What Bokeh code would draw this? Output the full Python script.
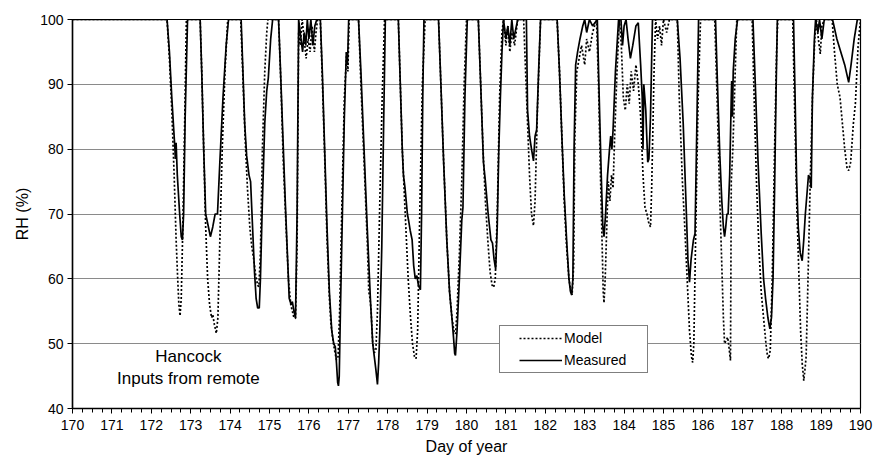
from bokeh.plotting import figure
from bokeh.models import (Range1d, FixedTicker, Legend, LegendItem)
from bokeh.core.properties import value
from bokeh.embed import file_html
from bokeh.resources import INLINE

# ---------------- data ----------------
meas_day = [170.00, 172.40, 172.46, 172.52, 172.58, 172.60, 172.61, 172.63, 172.66, 172.72, 172.76, 172.79, 172.82, 172.86, 172.92,
            173.24, 173.28, 173.33, 173.38, 173.45, 173.50, 173.56, 173.62, 173.68, 173.74, 173.82, 173.90, 173.96,
            174.28, 174.32, 174.37, 174.42, 174.48, 174.52, 174.57, 174.62, 174.66, 174.70, 174.74, 174.77, 174.82, 174.88, 174.93, 174.97, 175.03, 175.08,
            175.23, 175.28, 175.34, 175.40, 175.46, 175.50, 175.55, 175.58, 175.62, 175.66, 175.70, 175.74,
            175.80, 175.84, 175.88, 175.92, 175.96, 176.00, 176.05, 176.10, 176.15, 176.20, 176.29,
            176.34, 176.40, 176.46, 176.52, 176.58, 176.63, 176.67, 176.70, 176.73, 176.75, 176.77, 176.80, 176.85, 176.90, 176.95, 176.98, 177.01, 177.05,
            177.26, 177.32, 177.40, 177.48, 177.56, 177.62, 177.66, 177.70, 177.74, 177.77, 177.80, 177.85, 177.90, 177.94,
            178.27, 178.32, 178.37, 178.40, 178.44, 178.50, 178.53, 178.57, 178.62, 178.66, 178.70, 178.74, 178.78, 178.83, 178.86, 178.89, 178.92,
            179.29, 179.35, 179.42, 179.50, 179.57, 179.63, 179.67, 179.70, 179.72, 179.76, 179.82, 179.88, 179.91, 179.96, 180.02,
            180.30, 180.36, 180.43, 180.48, 180.55, 180.62, 180.66, 180.70, 180.74, 180.78, 180.82, 180.86, 180.90, 180.94,
            181.00, 181.05, 181.10, 181.15, 181.20, 181.30,
            181.52, 181.55, 181.60, 181.65, 181.70, 181.74, 181.78, 181.83, 181.88,
            182.30, 182.36, 182.42, 182.48, 182.55, 182.60, 182.64, 182.67, 182.70, 182.73, 182.77, 182.82, 182.88, 182.95, 183.00, 183.05, 183.12, 183.20,
            183.32, 183.36, 183.42, 183.46, 183.49, 183.53, 183.58, 183.63, 183.66, 183.69, 183.72, 183.78, 183.86,
            183.92, 183.96, 184.00, 184.05, 184.10, 184.16, 184.22, 184.30, 184.36, 184.42, 184.46, 184.48, 184.50, 184.55, 184.60, 184.63, 184.67, 184.72,
            185.35, 185.42, 185.50, 185.57, 185.62, 185.66, 185.70, 185.76, 185.80, 185.85, 185.89,
            186.32, 186.37, 186.43, 186.48, 186.52, 186.55, 186.58, 186.61, 186.64, 186.68, 186.72, 186.73, 186.75, 186.77, 186.82, 186.88,
            187.27, 187.33, 187.40, 187.48, 187.54, 187.59, 187.65, 187.70, 187.74, 187.78, 187.82, 187.86, 187.89,
            188.30, 188.34, 188.38, 188.42, 188.47, 188.52, 188.56, 188.60, 188.64, 188.68, 188.72, 188.75, 188.78, 188.83, 188.86,
            188.92, 188.96, 189.02, 189.08,
            189.29, 189.40, 189.50, 189.60, 189.70, 189.76, 189.84, 189.92, 190.00]
meas_rh = [100, 100, 95, 88, 82, 80, 78.5, 81, 76, 70, 66.5, 66, 70, 85, 100,
           100, 92, 80, 70, 68, 66.5, 68, 70, 70, 78, 88, 96, 100,
           100, 93, 84, 79, 76, 75, 68, 61, 57, 55.5, 55.5, 60, 72, 84, 89, 91, 97, 100,
           100, 92, 82, 72, 63, 57, 56, 56.5, 55, 54, 70, 100,
           97, 95, 98, 96, 100, 97, 100, 96, 99, 100, 100,
           92, 80, 68, 58, 52, 50, 49.5, 47, 44, 43.5, 45, 55, 70, 85, 95, 93, 100, 100,
           100, 92, 80, 68, 57, 50, 48, 46, 43.7, 47, 52, 65, 85, 100,
           100, 90, 80, 76, 74, 70, 69, 67.5, 66, 62, 60, 60.5, 59, 58.3, 70, 88, 100,
           100, 90, 78, 66, 58, 54, 51, 48.5, 48.2, 52, 60, 69, 71, 88, 100,
           100, 90, 78, 75, 70, 66, 65.5, 63, 61.5, 68, 80, 88, 95, 100,
           97, 99, 96, 100, 97, 100,
           100, 86, 82, 80, 78.2, 82, 83, 92, 100,
           100, 92, 82, 73, 65, 60, 58, 57.5, 60, 80, 93, 95, 97, 99, 100, 98, 100, 99,
           100, 90, 76, 68, 66.5, 70, 76, 80, 82, 80, 83, 92, 100,
           100, 96, 99, 100, 97, 94, 96, 99, 99.5, 93, 88, 80, 90, 86, 78, 78.5, 85, 100,
           100, 94, 84, 72, 63, 59.5, 63, 66, 67, 85, 100,
           100, 90, 79, 72, 68, 66.5, 68, 70, 70, 76, 88, 90.5, 85, 92, 97, 100,
           100, 90, 78, 67, 60, 57, 54, 52.3, 54, 60, 74, 90, 100,
           100, 88, 75, 68, 64, 62.8, 66, 70, 73, 76, 75.5, 74, 88, 97, 100,
           98, 100, 97, 100,
           100, 97, 95, 93, 90.3, 93, 97, 100, 100]

model_day = [170.00, 172.40, 172.46, 172.52, 172.58, 172.63, 172.67, 172.70, 172.73, 172.76, 172.80, 172.85, 172.89,
             173.24, 173.28, 173.33, 173.38, 173.43, 173.48, 173.53, 173.56, 173.60, 173.65, 173.69, 173.74, 173.80, 173.87, 173.94,
             174.27, 174.32, 174.38, 174.44, 174.50, 174.55, 174.60, 174.65, 174.70, 174.73, 174.77, 174.82, 174.88, 174.93, 174.96,
             175.23, 175.29, 175.35, 175.42, 175.48, 175.54, 175.58, 175.62, 175.66, 175.70, 175.74, 175.78, 175.83, 175.88, 175.93, 175.98, 176.03, 176.08, 176.14, 176.18, 176.22,
             176.29, 176.34, 176.40, 176.46, 176.52, 176.56, 176.60, 176.65, 176.70, 176.74, 176.78, 176.84, 176.90, 176.96, 176.99, 177.02,
             177.26, 177.32, 177.40, 177.48, 177.52, 177.55, 177.58, 177.62, 177.66, 177.70, 177.74, 177.80, 177.86, 177.92,
             178.27, 178.32, 178.37, 178.40, 178.46, 178.52, 178.58, 178.63, 178.68, 178.72, 178.76, 178.82, 178.88, 178.95,
             179.29, 179.35, 179.42, 179.50, 179.57, 179.63, 179.68, 179.72, 179.76, 179.82, 179.88, 179.94, 180.00,
             180.30, 180.36, 180.42, 180.48, 180.54, 180.60, 180.65, 180.69, 180.73, 180.78, 180.84, 180.90, 180.94,
             181.00, 181.05, 181.10, 181.15, 181.22, 181.30,
             181.45, 181.50, 181.55, 181.60, 181.65, 181.70, 181.74, 181.80, 181.88,
             182.30, 182.36, 182.42, 182.48, 182.54, 182.60, 182.65, 182.68, 182.72, 182.75, 182.80, 182.86, 182.92, 183.00, 183.05, 183.12, 183.20,
             183.30, 183.35, 183.40, 183.44, 183.47, 183.49, 183.52, 183.57, 183.60, 183.64, 183.68, 183.72, 183.76, 183.82, 183.88,
             183.93, 183.98, 184.03, 184.08, 184.13, 184.18, 184.24, 184.30, 184.36, 184.42, 184.48, 184.53, 184.58, 184.63, 184.67, 184.70, 184.76, 184.80,
             184.85, 184.90, 184.95, 185.00, 185.08, 185.15,
             185.35, 185.40, 185.48, 185.54, 185.60, 185.66, 185.71, 185.74, 185.77, 185.82, 185.88, 185.94,
             186.30, 186.36, 186.42, 186.48, 186.52, 186.55, 186.59, 186.63, 186.67, 186.70, 186.71, 186.72, 186.76, 186.80, 186.86,
             187.25, 187.30, 187.36, 187.42, 187.48, 187.54, 187.60, 187.64, 187.67, 187.71, 187.76, 187.82, 187.87, 187.90,
             188.28, 188.33, 188.38, 188.43, 188.48, 188.52, 188.56, 188.59, 188.62, 188.66, 188.72, 188.78, 188.84, 188.88,
             188.93, 188.98, 189.02, 189.08,
             189.28, 189.34, 189.41, 189.48, 189.54, 189.60, 189.66, 189.70, 189.75, 189.82, 189.87, 189.94, 190.00]
model_rh = [100, 100, 94, 86, 76, 66, 60, 56, 54.3, 57, 68, 85, 100,
            100, 92, 80, 68, 60, 56, 54, 54.5, 53, 51.6, 54, 66, 80, 92, 100,
            100, 92, 82, 74, 68, 65, 63, 60.5, 59, 58.8, 64, 80, 92, 98, 100,
            100, 90, 78, 68, 60, 56, 55, 54, 53.9, 65, 98, 96, 100, 97, 94, 97, 95, 99, 95, 98, 100,
            100, 91, 79, 66, 57, 53, 51, 49, 47.5, 48, 55, 72, 88, 95, 92, 100,
            100, 90, 78, 66, 58, 57, 55, 50, 48.6, 49, 55, 72, 88, 100,
            100, 90, 80, 76, 68, 60, 54, 50, 48, 47.7, 52, 72, 90, 100,
            100, 90, 78, 66, 58, 54, 52, 51.5, 55, 64, 75, 90, 100,
            100, 90, 80, 72, 66, 61, 59, 58.7, 60, 70, 88, 98, 100,
            96, 99, 95, 98, 96, 100,
            100, 92, 84, 76, 70, 68.2, 72, 86, 100,
            100, 92, 82, 72, 65, 60, 58, 57.5, 62, 82, 92, 94, 96, 93, 97, 95, 98,
            100, 90, 76, 66, 58, 56.3, 60, 70, 75, 72, 76, 74, 82, 92, 100,
            96, 88, 86, 90, 87, 92, 89, 93, 90, 85, 76, 71, 70, 68.5, 68, 74, 92, 100,
            97, 99, 96, 100, 98, 100,
            100, 88, 75, 68, 60, 52, 48, 47.1, 50, 68, 88, 100,
            100, 88, 74, 62, 54, 50, 50.5, 51, 49, 47.4, 60, 75, 80, 88, 100,
            100, 88, 75, 65, 58, 54, 50, 48, 47.7, 49, 60, 80, 95, 100,
            100, 86, 72, 62, 52, 47, 44.3, 46, 48, 58, 74, 88, 97, 100,
            97, 94.7, 99, 100,
            100, 95, 90, 88, 84, 80, 77, 76.7, 78, 84, 87, 96, 100]

x_ticks = list(range(170, 191))
y_ticks = list(range(40, 101, 10))
x_minor = [170 + i * 0.25 for i in range(0, 81)]
series_labels = ["Model", "Measured"]
note_lines = ["Hancock", "Inputs from remote"]

FONT = "Liberation Sans"

p = figure(frame_width=788, frame_height=389,
           min_border_left=72, min_border_right=15, min_border_top=19, min_border_bottom=52,
           x_range=Range1d(170, 190), y_range=Range1d(40, 100),
           output_backend="svg", toolbar_location=None,
           background_fill_color="white", border_fill_color="white")

p.outline_line_color = "black"
p.outline_line_width = 1.2

# grid
p.xgrid.grid_line_color = None
p.ygrid.grid_line_color = "#8a8a8a"
p.ygrid.grid_line_width = 1
p.ygrid.ticker = FixedTicker(ticks=y_ticks)

# axes
p.xaxis.ticker = FixedTicker(ticks=x_ticks, minor_ticks=x_minor)
p.yaxis.ticker = FixedTicker(ticks=y_ticks)
for ax in (p.xaxis, p.yaxis):
    ax.axis_line_color = "black"
    ax.axis_line_width = 1.5
    ax.major_tick_line_color = "black"
    ax.major_tick_in = 0
    ax.major_tick_out = 5
    ax.minor_tick_in = 0
    ax.major_label_text_font = FONT
    ax.major_label_text_font_size = "14px"
    ax.major_label_text_color = "black"
    ax.axis_label_text_font = FONT
    ax.axis_label_text_font_size = "16px"
    ax.axis_label_text_font_style = "normal"
    ax.axis_label_text_color = "black"
p.xaxis.minor_tick_out = 4
p.xaxis.minor_tick_line_color = "black"
p.yaxis.minor_tick_line_color = None
p.xaxis.major_label_standoff = 6
p.yaxis.major_label_standoff = 4
p.xaxis.axis_label = "Day of year"
p.yaxis.axis_label = "RH (%)"
p.xaxis.axis_label_standoff = 5
p.yaxis.axis_label_standoff = 6

# series
r_model = p.line(model_day, model_rh, line_color="black", line_width=1.7, line_dash="2 2")
r_meas = p.line(meas_day, meas_rh, line_color="black", line_width=1.7)

# note
p.text(x=[172.94, 172.94], y=[48.0, 44.6], text=note_lines,
       text_font=value(FONT), text_font_size="17px", text_color="black",
       text_align="center", text_baseline="middle")

legend = Legend(items=[LegendItem(label=series_labels[0], renderers=[r_model]),
                       LegendItem(label=series_labels[1], renderers=[r_meas])],
                location=(427, 35), margin=0, padding=2, spacing=2,
                glyph_width=43, glyph_height=20, label_height=20, label_width=81,
                label_standoff=2,
                title=" ", title_location="left", title_text_font_size="8px", title_standoff=8,
                label_text_font=FONT, label_text_font_size="14px", label_text_color="black",
                border_line_color="black", border_line_width=1,
                background_fill_color="white", background_fill_alpha=1)
p.add_layout(legend, "center")

open("out.html", "w").write(file_html(p, INLINE))
